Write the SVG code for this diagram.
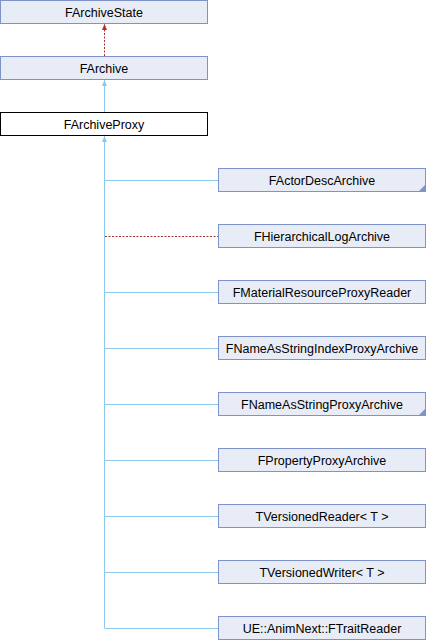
<svg xmlns="http://www.w3.org/2000/svg" width="426" height="640" viewBox="0 0 426 640">
<style>
.n{fill:#e8ecf6;stroke:#7d93c9;stroke-width:1}
.m{fill:#ffffff;stroke:#000000;stroke-width:1}
.t{font-family:"Liberation Sans",Arial,sans-serif;font-size:12.5px;fill:#000;text-anchor:middle}
.c{fill:none;stroke:#8cc8ec;stroke-width:1}
.d{fill:none;stroke:#a83232;stroke-width:1;stroke-dasharray:2,1.5}
.k{fill:#7d93c9}
</style>
<defs>
<marker id="ab" viewBox="0 0 6 7" refX="3" refY="0" markerWidth="6" markerHeight="7" markerUnits="userSpaceOnUse" orient="auto-start-reverse">
<path d="M0,7 L3,0 L6,7 Z" fill="#8cc8ec"/>
</marker>
<marker id="ar" viewBox="0 0 6 7" refX="3" refY="0" markerWidth="6" markerHeight="7" markerUnits="userSpaceOnUse">
<path d="M0,7 L3,0 L6,7 Z" fill="#a83232"/>
</marker>
</defs>
<g id="connectors">
<path class="d" d="M104.5,56 V24"/>
<path d="M102,30 L104.5,24 L107,30 Z" fill="#a83232"/>
<path class="c" d="M104.5,112 V80"/>
<path d="M102,86 L104.5,80 L107,86 Z" fill="#8cc8ec"/>
<path class="c" d="M104.5,628 V136"/>
<path d="M102,142 L104.5,136 L107,142 Z" fill="#8cc8ec"/>
<path class="c" d="M104.5,180.5 H218"/>
<path class="d" d="M105,236.5 H218"/>
<path class="c" d="M104.5,292.5 H218"/>
<path class="c" d="M104.5,348.5 H218"/>
<path class="c" d="M104.5,404.5 H218"/>
<path class="c" d="M104.5,460.5 H218"/>
<path class="c" d="M104.5,516.5 H218"/>
<path class="c" d="M104.5,572.5 H218"/>
<path class="c" d="M104.5,628.5 H218"/>
</g>
<g id="FArchiveState"><rect class="n" x="0.5" y="0.5" width="207" height="23"/><text class="t" x="104" y="16.5">FArchiveState</text></g>
<g id="FArchive"><rect class="n" x="0.5" y="56.5" width="207" height="23"/><text class="t" x="104" y="72.5">FArchive</text></g>
<g id="FArchiveProxy"><rect class="m" x="0.5" y="112.5" width="207" height="23"/><text class="t" x="104" y="128.5">FArchiveProxy</text></g>
<g id="FActorDescArchive"><rect class="n" x="218.5" y="168.5" width="207" height="23"/><path class="k" d="M425,185 V191 H419 Z"/><text class="t" x="322" y="184.5">FActorDescArchive</text></g>
<g id="FHierarchicalLogArchive"><rect class="n" x="218.5" y="224.5" width="207" height="23"/><text class="t" x="322" y="240.5">FHierarchicalLogArchive</text></g>
<g id="FMaterialResourceProxyReader"><rect class="n" x="218.5" y="280.5" width="207" height="23"/><text class="t" x="322" y="296.5">FMaterialResourceProxyReader</text></g>
<g id="FNameAsStringIndexProxyArchive"><rect class="n" x="218.5" y="336.5" width="207" height="23"/><text class="t" x="322" y="352.5">FNameAsStringIndexProxyArchive</text></g>
<g id="FNameAsStringProxyArchive"><rect class="n" x="218.5" y="392.5" width="207" height="23"/><path class="k" d="M425,409 V415 H419 Z"/><text class="t" x="322" y="408.5">FNameAsStringProxyArchive</text></g>
<g id="FPropertyProxyArchive"><rect class="n" x="218.5" y="448.5" width="207" height="23"/><text class="t" x="322" y="464.5">FPropertyProxyArchive</text></g>
<g id="TVersionedReader"><rect class="n" x="218.5" y="504.5" width="207" height="23"/><text class="t" x="322" y="520.5">TVersionedReader&lt; T &gt;</text></g>
<g id="TVersionedWriter"><rect class="n" x="218.5" y="560.5" width="207" height="23"/><text class="t" x="322" y="576.5">TVersionedWriter&lt; T &gt;</text></g>
<g id="FTraitReader"><rect class="n" x="218.5" y="616.5" width="207" height="23"/><text class="t" x="322" y="632.5">UE::AnimNext::FTraitReader</text></g>
</svg>
